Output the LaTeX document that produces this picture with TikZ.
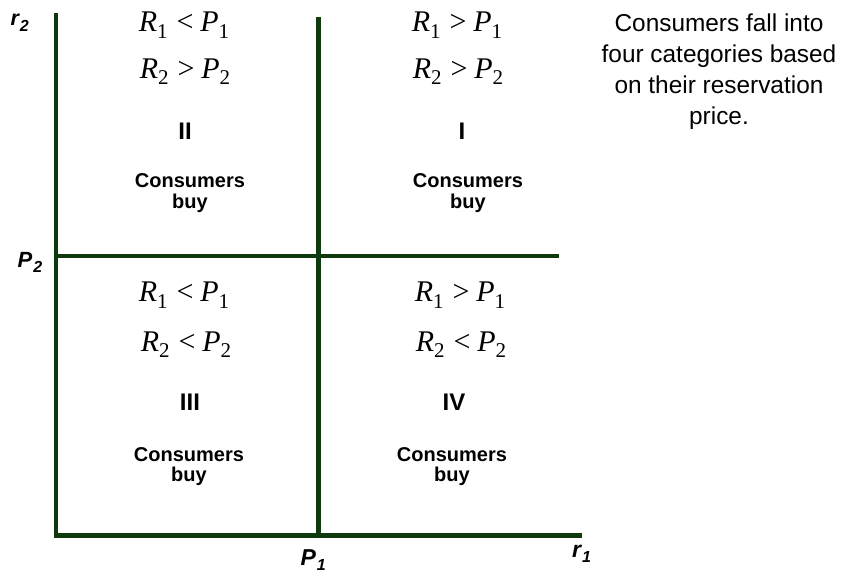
\documentclass[tikz,border=0pt]{standalone}
\usepackage{fontspec}
\setmainfont{Liberation Sans}
\newfontfamily\mathserif{Liberation Serif}
\definecolor{axgreen}{RGB}{14,58,14}
\newcommand\ineqq[5]{{\mathserif\fontsize{30}{30}\selectfont\textit{#1}\raisebox{-6.5pt}{\fontsize{21}{21}\selectfont #2}\hspace{0.3em}#3\hspace{0.22em}\textit{#4}\raisebox{-6.5pt}{\fontsize{21}{21}\selectfont #5}}}
\newcommand\axlab[3]{{\fontsize{#3}{#3}\selectfont\bfseries\itshape #1\kern0.04em\raisebox{-5.5pt}{\fontsize{16}{16}\selectfont #2}}}
\tikzset{
  axis line/.style={draw=axgreen, line width=4.5pt, line join=miter},
  eq/.style={anchor=base, inner sep=0pt},
  roman/.style={anchor=base, inner sep=0pt, font=\fontsize{24}{24}\selectfont\bfseries},
  cons/.style={anchor=base, inner sep=0pt, align=center, font=\fontsize{20}{20.3}\selectfont\bfseries},
  lab/.style={anchor=base west, inner sep=0pt},
  note/.style={anchor=base, inner sep=0pt, align=center, font=\fontsize{24.4}{31}\selectfont}
}
\begin{document}
\begin{tikzpicture}[x=1pt,y=-1pt]
\useasboundingbox (0,0) rectangle (847,573);
% axis coordinates
\coordinate (ytop) at (56,12.5);
\coordinate (orig) at (56,535.5);
\coordinate (xend) at (582,535.5);
\coordinate (mtop) at (318.5,17);
\coordinate (mbot) at (318.5,535.5);
\coordinate (hl) at (56,256);
\coordinate (hr) at (559,256);
\draw[axis line] (ytop) -- (orig) -- (xend);
\draw[axis line] (mtop) -- (mbot);
\draw[axis line] (hl) -- (hr);
% axis labels
\node[lab] (r2) at (10.5,25.5) {\axlab{r}{2}{21.5}};
\node[lab] (p2) at (17.5,267) {\axlab{P}{2}{22}};
\node[lab] (p1) at (300.5,565) {\axlab{P}{1}{23}};
\node[lab] (r1) at (572,557) {\axlab{r}{1}{23}};
% quadrant II
\node[eq] (q2a) at (184,31.7) {\ineqq{R}{1}{<}{P}{1}};
\node[eq] (q2b) at (185,78.3) {\ineqq{R}{2}{>}{P}{2}};
\node[roman] (q2n) at (185,139) {II};
\node[cons] (q2c) at (190,208) {Consumers\\buy};
% quadrant I
\node[eq] (q1a) at (457,31.7) {\ineqq{R}{1}{>}{P}{1}};
\node[eq] (q1b) at (458,78.3) {\ineqq{R}{2}{>}{P}{2}};
\node[roman] (q1n) at (462,139) {I};
\node[cons] (q1c) at (468,208) {Consumers\\buy};
% quadrant III
\node[eq] (q3a) at (184,301.5) {\ineqq{R}{1}{<}{P}{1}};
\node[eq] (q3b) at (186,351) {\ineqq{R}{2}{<}{P}{2}};
\node[roman] (q3n) at (190,410) {III};
\node[cons] (q3c) at (189,481.7) {Consumers\\buy};
% quadrant IV
\node[eq] (q4a) at (460,301.5) {\ineqq{R}{1}{>}{P}{1}};
\node[eq] (q4b) at (461,351) {\ineqq{R}{2}{<}{P}{2}};
\node[roman] (q4n) at (454,410) {IV};
\node[cons] (q4c) at (452,481.7) {Consumers\\buy};
% note
\node[note] (note) at (719,124.7) {Consumers fall into\\four categories based\\on their reservation\\price.};
\end{tikzpicture}
\end{document}
